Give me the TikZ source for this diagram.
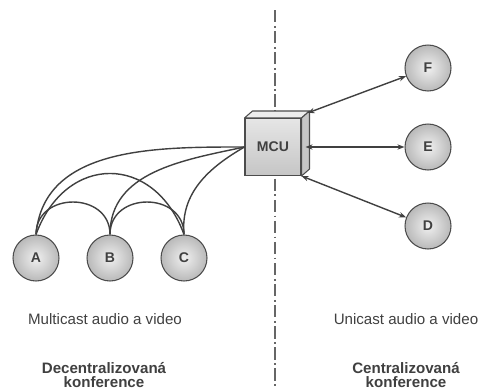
\documentclass[tikz,border=0pt]{standalone}
\usepackage{fontspec}
\setmainfont{Liberation Sans}
\usetikzlibrary{arrows.meta, positioning}

\begin{document}
\begin{tikzpicture}[
        x=0.02cm, y=-0.02cm,
        station/.style={circle, draw=black!70, semithick, minimum size=0.92cm, inner sep=0pt, shading=radial, inner color=gray!12, outer color=gray!55, font=\footnotesize\bfseries, text=black!75},
        mcubox/.style={rectangle, draw=black!70, semithick, minimum width=1.12cm, minimum height=1.14cm, top color=gray!20, bottom color=gray!45, font=\footnotesize\bfseries, text=black!75},
        face/.style={draw=black!70, semithick, line join=round},
        link/.style={thick, draw=black!75},
        flow/.style={{Stealth[length=4pt]}-{Stealth[length=4pt]}, thick, draw=black!75},
        divider/.style={draw=black!60, thick, dash pattern=on 7pt off 2pt on 1pt off 2pt},
        caption/.style={font=\fontsize{8.6}{8.5}\selectfont, text=black!75, align=center}
    ]
        \useasboundingbox (0,0) rectangle (484,389);

        % Divider
        \coordinate (divtop) at (275,10);
        \coordinate (divbot) at (275,395);
        \draw[divider] (divtop) -- (divbot);

        % MCU
        \node[mcubox] (mcu) at (273,147) {MCU};
        \filldraw[face, fill=gray!15] (mcu.north west) -- ([shift={(8,-7)}]mcu.north west) -- ([shift={(8,-7)}]mcu.north east) -- (mcu.north east) -- cycle;
        \filldraw[face, fill=gray!45] (mcu.north east) -- ([shift={(8,-7)}]mcu.north east) -- ([shift={(8,-7)}]mcu.south east) -- (mcu.south east) -- cycle;

        % Stations
        \node[station] (a) at (36,258) {A};
        \node[station] (b) at (110,258) {B};
        \node[station] (c) at (184,258) {C};
        \node[station] (f) at (428,68) {F};
        \node[station] (e) at (428,147) {E};
        \node[station] (d) at (428,226) {D};

        % Multicast links
        \draw[link] (mcu.west) to[out=180, in=85] (a.north);
        \draw[link] (mcu.west) to[out=192, in=90] (b.north);
        \draw[link] (mcu.west) to[out=210, in=95] (c.north);
        \draw[link] (a.north) to[out=90, in=90, looseness=1.5] (b.north);
        \draw[link] (b.north) to[out=90, in=90, looseness=1.5] (c.north);
        \draw[link] (a.north) to[out=70, in=110, looseness=1.5] (c.north);

        % Unicast links
        \draw[flow] ([shift={(6,-5)}]mcu.north east) -- (f);
        \draw[flow] ([shift={(4,0)}]mcu.east) -- (e);
        \draw[flow] (mcu.south east) -- (d);

        % Captions
        \node[caption] (multi) at (105,319) {Multicast audio a video};
        \node[caption] (uni) at (406,319) {Unicast audio a video};
        \node[caption, font=\fontsize{8.6}{8.5}\selectfont\bfseries] (decent) at (104,375) {Decentralizovaná\\konference};
        \node[caption, font=\fontsize{8.6}{8.5}\selectfont\bfseries] (cent) at (406,375) {Centralizovaná\\konference};
\end{tikzpicture}
\end{document}
